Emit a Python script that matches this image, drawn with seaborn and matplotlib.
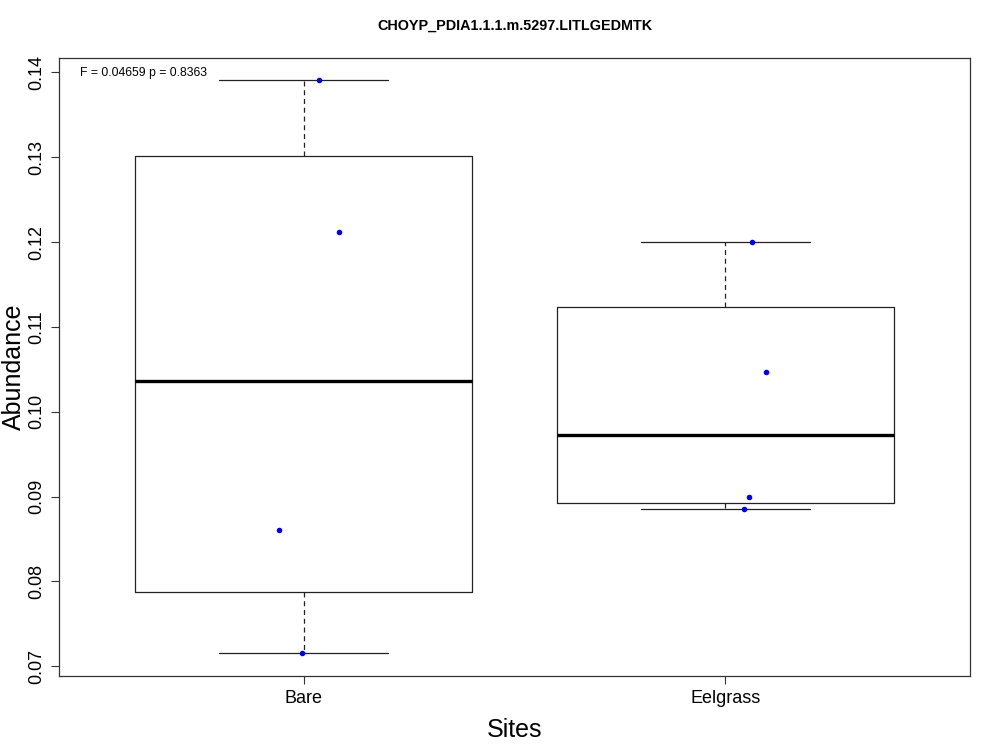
import matplotlib
matplotlib.use("Agg")
import matplotlib.pyplot as plt
import numpy as np
import pandas as pd
import seaborn as sns

# values
sites = ["Bare", "Eelgrass"]
bare_abundance = [0.13909, 0.12122, 0.08606, 0.07154]
eelgrass_abundance = [0.12000, 0.10469, 0.08990, 0.08855]
title = "CHOYP_PDIA1.1.1.m.5297.LITLGEDMTK"
stat_text = "F = 0.04659 p = 0.8363"

# horizontal jitter of the dots as seen in the picture
bare_jitter = [0.037, 0.084, -0.058, -0.004]
eelgrass_jitter = [0.062, 0.097, 0.055, 0.043]


def fivenum(values):
    ''' Tukey five-number summary, as R's boxplot uses it. '''
    x = np.sort(np.asarray(values, dtype=float))
    n = len(x)
    n4 = np.floor((n + 3) / 2) / 2
    d = np.array([1, n4, (n + 1) / 2, n + 1 - n4, n]) - 1
    return 0.5 * (x[np.floor(d).astype(int)] + x[np.ceil(d).astype(int)])


df = pd.DataFrame({
    "site": ["Bare"] * len(bare_abundance) + ["Eelgrass"] * len(eelgrass_abundance),
    "abundance": bare_abundance + eelgrass_abundance,
    "jitter": bare_jitter + eelgrass_jitter,
})
df["xpos"] = df.site.map({s: i + 1 for i, s in enumerate(sites)}) + df.jitter

sns.set_theme(style="ticks")
plt.rcParams["font.family"] = ["Liberation Sans", "DejaVu Sans"]
plt.rcParams["text.color"] = "black"
plt.rcParams["axes.labelcolor"] = "black"
plt.rcParams["xtick.labelcolor"] = "black"
plt.rcParams["ytick.labelcolor"] = "black"

fig = plt.figure(figsize=(10, 7.5), dpi=100)
ax = fig.add_axes([0.059, 0.0987, 0.911, 0.824])

stats = []
for s in sites:
    lo, q1, med, q3, hi = fivenum(df[df.site.eq(s)]["abundance"])
    stats.append(dict(whislo=lo, q1=q1, med=med, q3=q3, whishi=hi, fliers=[], label=s))

ax.bxp(stats, positions=[1, 2], widths=0.8, showfliers=False,
       boxprops=dict(color="#222222", linewidth=0.9),
       whiskerprops=dict(color="#222222", linewidth=0.9, linestyle=(0, (4, 3))),
       capprops=dict(color="#222222", linewidth=0.9),
       capwidths=0.4,
       medianprops=dict(color="black", linewidth=2.4))

sns.scatterplot(data=df, x="xpos", y="abundance", ax=ax, color="#0000ee",
                s=16, linewidth=0, zorder=5)

ax.set_xlim(0.42, 2.58)
ax.set_ylim(0.06885, 0.14169)
ax.set_xticks([1, 2])
ax.set_xticklabels(sites, fontsize=13)
ax.set_yticks([0.07, 0.08, 0.09, 0.10, 0.11, 0.12, 0.13, 0.14])
ax.set_yticklabels(["0.07", "0.08", "0.09", "0.10", "0.11", "0.12", "0.13", "0.14"],
                   fontsize=13, rotation=90, va="center")
ax.tick_params(axis="both", direction="out", length=6, width=0.8, color="#333333", pad=4)
for sp in ax.spines.values():
    sp.set_color("#333333")
    sp.set_linewidth(0.9)

ax.set_xlabel("Sites", fontsize=18, labelpad=8)
ax.set_ylabel("Abundance", fontsize=18)
ax.yaxis.set_label_coords(-0.036, 0.5)
ax.set_title(title, fontsize=10.4, weight="bold", pad=20)
ax.text(0.023, 0.975, stat_text, transform=ax.transAxes, fontsize=8.8,
        ha="left", va="center")

fig.savefig("out.png", dpi=100)
